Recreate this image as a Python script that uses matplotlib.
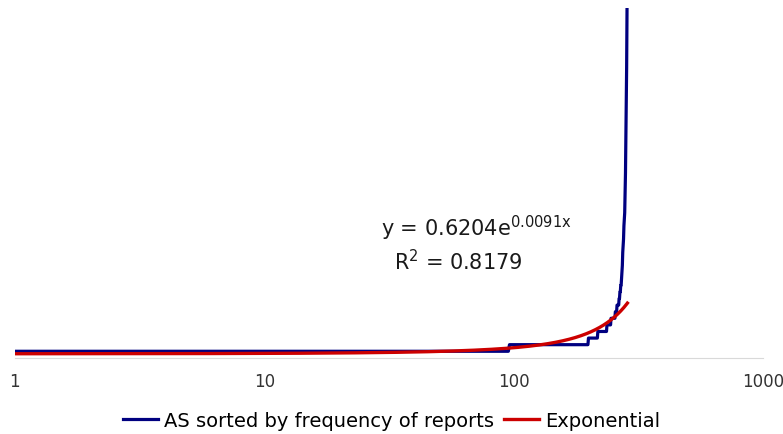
import numpy as np
import matplotlib
matplotlib.use("Agg")
import matplotlib.pyplot as plt

levels = [1, 2, 3, 4, 5, 6]
runs = [95, 103, 18, 19, 9, 10]
# steep tail (ranks 255..285)
tail = [7, 7, 7, 7, 8, 8, 8, 8, 8, 9, 9, 10, 10, 11, 11, 12, 13, 14, 16, 17,
        18, 20, 21, 22, 25, 28, 33, 37, 44, 53, 60]

# exponential trendline shown on chart
a_coef = 0.6204
b_coef = 0.0091
r2 = 0.8179

counts = []
for lv, n in zip(levels, runs):
    counts += [lv] * n
counts += tail
counts = np.array(counts)
rank = np.arange(1, len(counts) + 1)

fit_x = np.linspace(1, rank[-1], 400)
fit_y = a_coef * np.exp(b_coef * fit_x)

fig = plt.figure(figsize=(7.83, 4.35), dpi=100)
ax = fig.add_axes([0.019, 0.175, 0.956, 0.804])

ax.plot(rank, counts, color="#000080", lw=2.3, label="AS sorted by frequency of reports")
ax.plot(fit_x, fit_y, color="#cc0000", lw=2.4, label="Exponential")

ax.set_xscale("log")
ax.set_xlim(1, 1000)
ax.set_ylim(0, 53)
ax.set_xticks([1, 10, 100, 1000])
ax.set_xticklabels(["1", "10", "100", "1000"])
ax.minorticks_off()
ax.tick_params(axis="x", length=0, pad=10, labelsize=12, colors="#333333")
ax.set_yticks([])
for s in ["top", "left", "right"]:
    ax.spines[s].set_visible(False)
ax.spines["bottom"].set_color("#d9d9d9")
ax.spines["bottom"].set_linewidth(0.8)

ax.text(0.608, 0.476, "y = 0.6204e$^{\\mathregular{0.0091x}}$", transform=fig.transFigure,
        ha="center", va="center", fontsize=15, color="#1a1a1a")
ax.text(0.585, 0.398, "R$^{\\mathregular{2}}$ = %.4f" % r2, transform=fig.transFigure,
        ha="center", va="center", fontsize=15, color="#1a1a1a")

fig.legend(loc="lower center", bbox_to_anchor=(0.5, -0.03), ncol=2, frameon=False,
           fontsize=14, handlelength=1.8, handletextpad=0.3, columnspacing=0.5)

fig.savefig("out.png", dpi=100)
